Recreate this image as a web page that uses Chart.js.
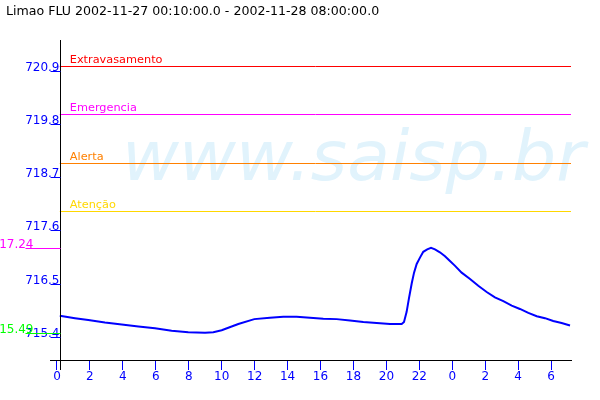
<!DOCTYPE html>
<html>
<head>
<meta charset="utf-8">
<script src="https://cdn.jsdelivr.net/npm/chart.js@4"></script>
<style>
  body { margin: 0; background: #fff; }
  canvas { display: block; }
</style>
</head>
<body>
<canvas id="chart" width="600" height="400"></canvas>
<script>
// Data (hours since 2002-11-27 00:00, level in m)
const hours = [0.17, 1.09, 1.90, 2.91, 3.93, 4.94, 5.95, 6.96, 7.97, 8.99, 9.49, 10.00,
  11.01, 11.98, 12.93, 13.74, 14.55, 15.36, 16.17, 16.98, 17.79, 18.60, 19.41, 20.22,
  20.93, 21.07, 21.23, 21.37, 21.54, 21.68, 21.84, 22.04, 22.24, 22.48, 22.71, 22.95,
  23.25, 23.56, 23.86, 24.17, 24.57, 25.08, 25.58, 26.09, 26.59, 27.10, 27.61, 28.11,
  28.62, 29.13, 29.63, 30.13, 30.64, 31.15];
const levels = [715.84, 715.79, 715.75, 715.70, 715.66, 715.62, 715.58, 715.53, 715.50, 715.49, 715.50, 715.54,
  715.67, 715.77, 715.80, 715.82, 715.82, 715.80, 715.78, 715.77, 715.74, 715.71, 715.69, 715.67,
  715.67, 715.71, 715.92, 716.20, 716.51, 716.73, 716.91, 717.04, 717.16, 717.21, 717.24, 717.21,
  717.15, 717.07, 716.97, 716.87, 716.73, 716.60, 716.46, 716.33, 716.22, 716.14, 716.05, 715.98,
  715.90, 715.83, 715.79, 715.73, 715.69, 715.64];

const thresholdNames = ['Extravasamento', 'Emergencia', 'Alerta', 'Atenção'];
const thresholdLevels = [721.0, 720.0, 719.0, 718.0];

const yTicks = [715.4, 716.5, 717.6, 718.7, 719.8, 720.9];
const xTicks = [0, 2, 4, 6, 8, 10, 12, 14, 16, 18, 20, 22, 24, 26, 28, 30];

const title = 'Limao FLU 2002-11-27 00:10:00.0 - 2002-11-28 08:00:00.0';

// Styles
const thresholdColors = ['#ff0000', '#ff00ff', '#ff8000', '#ffd700'];
const blue = '#0000ff';
const fontFamily = '"DejaVu Sans", sans-serif';

const maxLevel = Math.max(...levels);
const minLevel = Math.min(...levels);

const decorPlugin = {
    id: 'decor',
    beforeDraw(chart) {
        // watermark
        const ctx = chart.ctx;
        ctx.save();
        ctx.font = 'italic 70px ' + fontFamily;
        ctx.fillStyle = '#e1f3fc';
        ctx.textBaseline = 'alphabetic';
        const w = ctx.measureText('www.saisp.br').width;
        ctx.translate(122, 180);
        ctx.scale(463 / w, 1);
        ctx.fillText('www.saisp.br', 0, 0);
        ctx.restore();
    },
    beforeDatasetsDraw(chart) {
        const ctx = chart.ctx;
        const x = chart.scales.x;
        const y = chart.scales.y;
        const left = x.getPixelForValue(hours[0]);
        const right = chart.chartArea.right;
        ctx.save();
        ctx.font = '11.3px ' + fontFamily;
        ctx.textAlign = 'left';
        ctx.textBaseline = 'alphabetic';
        thresholdLevels.forEach((lvl, i) => {
            const py = Math.round(y.getPixelForValue(lvl)) + 0.5;
            ctx.strokeStyle = thresholdColors[i];
            ctx.lineWidth = 1;
            ctx.beginPath();
            ctx.moveTo(left, py);
            ctx.lineTo(right, py);
            ctx.stroke();
            ctx.fillStyle = thresholdColors[i];
            ctx.fillText(thresholdNames[i], left + 10, py - 4);
        });
        ctx.restore();
    },
    afterDraw(chart) {
        const ctx = chart.ctx;
        const x = chart.scales.x;
        const y = chart.scales.y;
        const area = chart.chartArea;
        const ax = Math.round(x.getPixelForValue(hours[0])) + 0.5;
        ctx.save();
        // y axis line
        ctx.strokeStyle = '#000';
        ctx.lineWidth = 1;
        ctx.beginPath();
        ctx.moveTo(ax, area.top);
        ctx.lineTo(ax, area.bottom + 10);
        ctx.stroke();
        // y tick labels with underline
        ctx.font = '12px ' + fontFamily;
        ctx.textAlign = 'right';
        ctx.textBaseline = 'alphabetic';
        yTicks.forEach(v => {
            const py = Math.round(y.getPixelForValue(v)) + 0.5;
            ctx.strokeStyle = blue;
            ctx.beginPath();
            ctx.moveTo(ax - 10, py);
            ctx.lineTo(ax, py);
            ctx.stroke();
            ctx.fillStyle = blue;
            ctx.fillText(v.toFixed(1), ax - 1, py - 1);
        });
        // max / min markers
        [[maxLevel, '#ff00ff'], [minLevel, '#00ff00']].forEach(([v, c]) => {
            const py = Math.round(y.getPixelForValue(v)) + 0.5;
            ctx.strokeStyle = c;
            ctx.beginPath();
            ctx.moveTo(ax - 35, py);
            ctx.lineTo(ax, py);
            ctx.stroke();
            ctx.fillStyle = c;
            ctx.fillText(v.toFixed(2), ax - 27, py - 1);
        });
        ctx.restore();
    }
};

new Chart(document.getElementById('chart'), {
    type: 'line',
    data: {
        datasets: [{
            data: hours.map((h, i) => ({ x: h, y: levels[i] })),
            borderColor: blue,
            borderWidth: 2,
            pointRadius: 0,
            tension: 0,
            fill: false
        }]
    },
    options: {
        responsive: false,
        animation: false,
        devicePixelRatio: 1,
        layout: { padding: { left: 6, right: 29, top: 0, bottom: 0 } },
        plugins: {
            legend: { display: false },
            tooltip: { enabled: false },
            title: {
                display: true,
                text: title,
                align: 'start',
                color: '#000',
                font: { family: fontFamily, size: 12.6, weight: 'normal', lineHeight: 1.2 },
                padding: { top: 4, bottom: 20.9 }
            }
        },
        scales: {
            x: {
                type: 'linear',
                min: -0.425,
                max: 31.21,
                afterBuildTicks: s => { s.ticks = xTicks.map(v => ({ value: v })); },
                afterFit: s => { s.height = 40; },
                ticks: {
                    color: blue,
                    font: { family: fontFamily, size: 12 },
                    padding: 0,
                    maxRotation: 0,
                    autoSkip: false,
                    callback: v => v % 24
                },
                grid: {
                    drawOnChartArea: false,
                    drawTicks: true,
                    tickLength: 10,
                    color: blue
                },
                border: { display: true, color: '#000', width: 1 }
            },
            y: {
                type: 'linear',
                min: 714.926,
                max: 721.533,
                afterFit: s => { s.width = 44; },
                ticks: { display: false },
                grid: { display: false },
                border: { display: false }
            }
        }
    },
    plugins: [decorPlugin]
});
</script>
</body>
</html>
